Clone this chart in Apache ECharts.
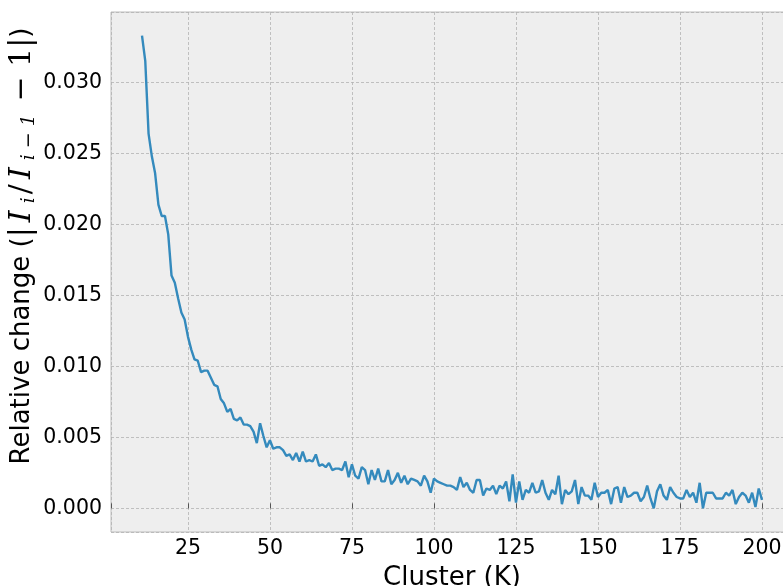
<!DOCTYPE html>
<html>
<head>
<meta charset="utf-8">
<script src="https://cdn.jsdelivr.net/npm/echarts@6/dist/echarts.min.js"></script>
<style>html,body{margin:0;padding:0;background:#fff}#c{width:783px;height:586px}</style>
</head>
<body>
<div id="c"></div>
<script>
var firstCluster = 11;
var relChange = [
0.0333,0.0315,0.0264,0.0248,0.0236,0.0214,0.0206,0.0206,0.0193,0.0164,
0.0159,0.0148,0.0138,0.0133,0.0121,0.0112,0.0105,0.0104,0.0096,0.0097,
0.0097,0.0092,0.0087,0.0086,0.0077,0.0074,0.0068,0.0070,0.0063,0.0062,
0.0064,0.0059,0.0059,0.0058,0.0054,0.0046,0.0060,0.0051,0.0043,0.0048,
0.0042,0.0043,0.0043,0.0041,0.0037,0.0038,0.0034,0.0039,0.0033,0.0040,
0.0033,0.0034,0.0033,0.0038,0.0030,0.0031,0.0029,0.0032,0.0027,0.0028,
0.0028,0.0027,0.0033,0.0022,0.0031,0.0023,0.0021,0.0029,0.0027,0.0017,
0.0027,0.0020,0.0028,0.0019,0.0019,0.0027,0.0017,0.0020,0.0025,0.0018,
0.0023,0.0017,0.0021,0.0020,0.0019,0.0016,0.0023,0.0019,0.0011,0.0021,
0.0019,0.0018,0.0017,0.0016,0.0016,0.0015,0.0013,0.0022,0.0015,0.0018,
0.0013,0.0011,0.0020,0.0020,0.0009,0.0014,0.0013,0.0016,0.0010,0.0016,
0.0014,0.0019,0.0005,0.0024,0.0004,0.0019,0.0006,0.0013,0.0011,0.0018,
0.0011,0.0012,0.0020,0.0011,0.0006,0.0013,0.0010,0.0023,0.0003,0.0013,
0.0010,0.0012,0.0020,0.0003,0.0015,0.0009,0.0009,0.0006,0.0018,0.0008,
0.0011,0.0011,0.0013,0.0003,0.0014,0.0015,0.0004,0.0015,0.0008,0.0009,
0.0011,0.0011,0.0005,0.0008,0.0016,0.0007,0.0000,0.0012,0.0017,0.0009,
0.0006,0.0015,0.0011,0.0008,0.0007,0.0007,0.0013,0.0008,0.0011,0.0004,
0.0018,0.0000,0.0011,0.0011,0.0011,0.0007,0.0007,0.0007,0.0011,0.0009,
0.0013,0.0003,0.0008,0.0011,0.0009,0.0004,0.0011,0.0001,0.0014,0.0006
];
var clusters = relChange.map(function(_, i){ return firstCluster + i; });
var xTickStep = 25;
var yTickStep = 0.005;
var xTitle = 'Cluster (K)';
var yTitle = '{n|Relative change (}{m||}{i|I}{s|i}{m|/}{i|I}{s|i − 1}{m| − 1|}{n|)}';

var pts = clusters.map(function(k, i){ return [k, relChange[i]]; });
function isMult(v, s){ var r = v / s; return Math.abs(r - Math.round(r)) < 1e-6; }

var chart = echarts.init(document.getElementById('c'), null, {renderer:'canvas'});
chart.setOption({
  animation: false,
  backgroundColor: '#ffffff',
  grid: {left:111, top:12, right:-10, bottom:54, show:true, backgroundColor:'#eeeeee', borderColor:'#bcbcbc', borderWidth:1, containLabel:false, outerBoundsMode:'none'},
  xAxis: {
    type:'value', min:1.55, max:209.45, minInterval:xTickStep, maxInterval:xTickStep,
    axisLine:{show:false},
    axisTick:{show:true, inside:true, length:5, lineStyle:{color:'#555', width:1}},
    axisLabel:{fontSize:20.5, color:'#000', fontFamily:'DejaVu Sans', margin:6,
      formatter:function(v){ return isMult(v, xTickStep) ? String(Math.round(v)) : ''; }},
    splitLine:{show:true, lineStyle:{color:'#b2b2b2', width:0.8, type:[3,2]}},
    name:xTitle, nameLocation:'middle', nameGap:33, nameMoveOverlap:false,
    nameTextStyle:{fontSize:26, color:'#000', fontFamily:'DejaVu Sans'}
  },
  yAxis: {
    type:'value', min:-0.001665, max:0.034965, minInterval:yTickStep, maxInterval:yTickStep,
    axisLine:{show:false},
    axisTick:{show:false},
    axisLabel:{fontSize:20.5, color:'#000', fontFamily:'DejaVu Sans', margin:9,
      formatter:function(v){ return isMult(v, yTickStep) ? Math.abs(v).toFixed(3) : ''; }},
    splitLine:{show:true, lineStyle:{color:'#b2b2b2', width:0.8, type:[3,2]}},
    name:yTitle, nameLocation:'middle', nameGap:72, nameMoveOverlap:false,
    nameTextStyle:{fontSize:26, color:'#000', fontFamily:'DejaVu Sans', padding:[0,0,0,52],
      rich:{
        n:{fontSize:26, fontFamily:'DejaVu Sans', color:'#000', lineHeight:34, verticalAlign:'middle'},
        m:{fontSize:30, fontFamily:'DejaVu Serif', color:'#000', lineHeight:34, verticalAlign:'middle'},
        i:{fontSize:30, fontStyle:'italic', fontFamily:'DejaVu Serif', color:'#000', lineHeight:34, verticalAlign:'middle', padding:[0,5,0,5]},
        s:{fontSize:19, fontStyle:'italic', fontFamily:'DejaVu Serif', color:'#000', lineHeight:19, verticalAlign:'bottom', padding:[0,3,0,2]}
      }}
  },
  series: [{
    type:'line', data:pts, showSymbol:false, symbol:'none',
    lineStyle:{color:'#348ABD', width:2.4}, itemStyle:{color:'#348ABD'}
  }]
});
</script>
</body>
</html>
